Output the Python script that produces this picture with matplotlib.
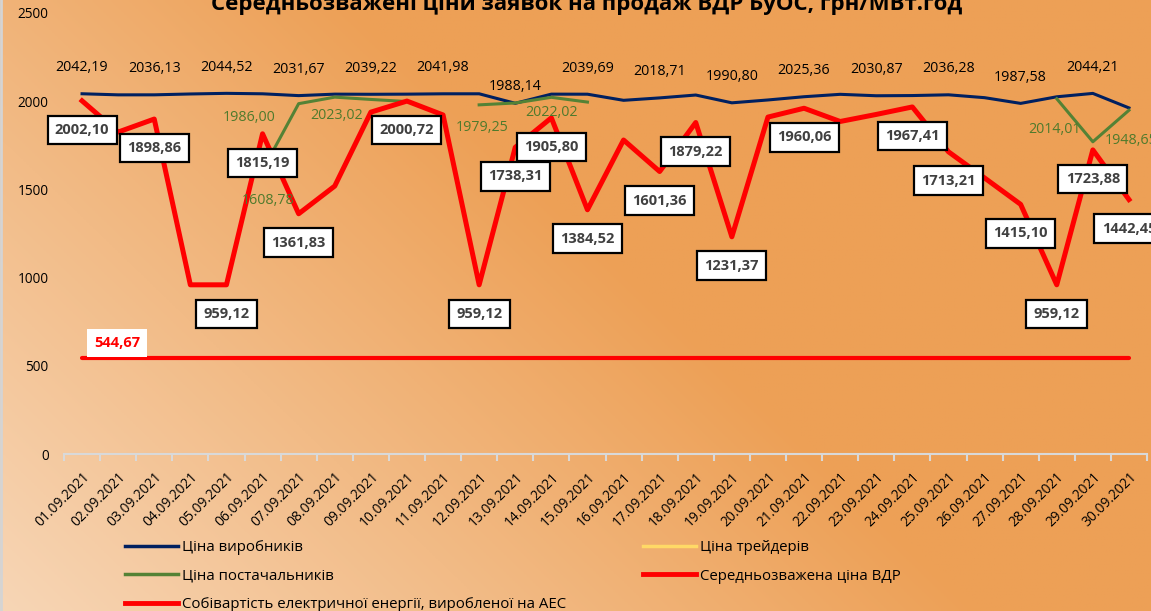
import numpy as np
import matplotlib.pyplot as plt
from matplotlib.lines import Line2D

plt.rcParams['font.family'] = ['Open Sans', 'DejaVu Sans']

# categories
dates = ["01.09.2021", "02.09.2021", "03.09.2021", "04.09.2021", "05.09.2021",
         "06.09.2021", "07.09.2021", "08.09.2021", "09.09.2021", "10.09.2021",
         "11.09.2021", "12.09.2021", "13.09.2021", "14.09.2021", "15.09.2021",
         "16.09.2021", "17.09.2021", "18.09.2021", "19.09.2021", "20.09.2021",
         "21.09.2021", "22.09.2021", "23.09.2021", "24.09.2021", "25.09.2021",
         "26.09.2021", "27.09.2021", "28.09.2021", "29.09.2021", "30.09.2021"]

# Ціна виробників
producers = [2042.19, 2036.0, 2036.13, 2041.0, 2044.52, 2042.0, 2031.67, 2040.0,
             2039.22, 2040.0, 2041.98, 2042.0, 1988.14, 2040.0, 2039.69, 2005.0,
             2018.71, 2035.0, 1990.80, 2007.0, 2025.36, 2039.0, 2030.87, 2032.0,
             2036.28, 2020.0, 1987.58, 2025.0, 2044.21, 1962.0]
producers_labeled = [0, 2, 4, 6, 8, 10, 12, 14, 16, 18, 20, 22, 24, 26, 28]

# Ціна постачальників (gaps = no data)
nan = np.nan
suppliers = [nan, nan, nan, nan, nan, 1608.78, 1986.00, 2023.02, 2010.0, 1998.0,
             nan, 1979.25, 1990.0, 2022.02, 1995.0, nan, nan, nan, nan, nan,
             nan, nan, nan, nan, nan, nan, nan, 2014.01, 1770.0, 1948.65]
suppliers_labeled = [5, 6, 7, 11, 13, 27, 29]

# Ціна трейдерів - no values in this month
traders = [nan] * 30

# Середньозважена ціна ВДР
weighted = [2002.10, 1825.0, 1898.86, 959.12, 959.12, 1815.19, 1361.83, 1519.0,
            1938.0, 2000.72, 1922.0, 959.12, 1738.31, 1905.80, 1384.52, 1780.0,
            1601.36, 1879.22, 1231.37, 1910.0, 1960.06, 1885.0, 1925.0, 1967.41,
            1713.21, 1565.0, 1415.10, 959.12, 1723.88, 1442.45]
weighted_labeled = [0, 2, 4, 5, 6, 9, 11, 12, 13, 14, 16, 17, 18, 20, 23, 24,
                    26, 27, 28, 29]

# Собівартість електроенергії АЕС
npp_cost = [544.67] * 30


def fmt(v):
    return f"{v:.2f}".replace(".", ",")


W, H = 1151, 611
fig = plt.figure(figsize=(W / 100, H / 100), dpi=100)

# gradient background
bg = fig.add_axes([0, 0, 1, 1], zorder=-10)
u = np.linspace(0, 1, 400)
v = np.linspace(1, 0, 200)
U, V = np.meshgrid(u, v)
t = np.clip((U * 1.0 + V * 0.55) / 0.85, 0, 1)
c0 = np.array([247, 214, 182]) / 255
c1 = np.array([237, 160, 86]) / 255
img = c0 + (c1 - c0) * t[..., None]
bg.imshow(img, aspect='auto', extent=[0, 1, 0, 1])
bg.axis('off')
fig.add_artist(Line2D([0.0012, 0.0012], [0, 1], color='#d4d4d4', lw=2))

ax = fig.add_axes([64 / W, 1 - 454 / H, (1147 - 64) / W, (454 - 13) / H])
ax.set_facecolor('none')
x = np.arange(len(dates))

navy = '#002060'
green = '#548235'
red = '#ff0000'
yellow = '#ffd966'

ax.plot(x, producers, color=navy, lw=2.2, zorder=3)
ax.plot(x, traders, color=yellow, lw=2.2, zorder=3)
ax.plot(x, suppliers, color=green, lw=2.2, zorder=4)
ax.plot(x, weighted, color=red, lw=3.6, zorder=5)
ax.plot(x, npp_cost, color=red, lw=3.0, zorder=5, solid_capstyle='round')

ax.set_xlim(-0.5, len(dates) - 0.5)
ax.set_ylim(0, 2500)
ax.set_yticks([0, 500, 1000, 1500, 2000, 2500])
ax.tick_params(axis='y', length=0, pad=11, labelsize=9.8)
ax.set_xticks(x)
ax.set_xticklabels(dates, rotation=45, ha='right', va='top',
                   rotation_mode='anchor', fontsize=9.9)
ax.tick_params(axis='x', which='major', length=0, pad=11)
ax.set_xticks(np.arange(-0.5, len(dates)), minor=True)
ax.tick_params(axis='x', which='minor', length=5, color='#d9d9d9', width=1.5)
for s in ['top', 'right', 'left']:
    ax.spines[s].set_visible(False)
ax.spines['bottom'].set_color('#d9d9d9')
ax.spines['bottom'].set_linewidth(1.5)

# producer labels above the line
for i in producers_labeled:
    dy = 17 if i == 12 else 26
    ax.annotate(fmt(producers[i]), (i, producers[i]), xytext=(0, dy),
                textcoords='offset pixels', ha='center', va='center',
                fontsize=10.3, color='black', zorder=6)

# supplier labels
sup_off = {5: (6, -30), 6: (-50, -14), 7: (2, -18), 11: (3, -23),
           13: (0, -15), 27: (-2, -31), 29: (2, -30)}
for i in suppliers_labeled:
    ax.annotate(fmt(suppliers[i]), (i, suppliers[i]), xytext=sup_off[i],
                textcoords='offset pixels', ha='center', va='center',
                fontsize=10.3, color='#4f7a2c', zorder=6, annotation_clip=False)

# weighted price labels in boxes
for i in weighted_labeled:
    ax.annotate(fmt(weighted[i]), (i, weighted[i]), xytext=(0, -29),
                textcoords='offset pixels', ha='center', va='center',
                fontsize=10.5, fontweight='bold', color='#404040', zorder=7,
                bbox=dict(boxstyle='square,pad=0.5', fc='white', ec='black', lw=1.6))

ax.annotate(fmt(npp_cost[0]), (0, npp_cost[0]), xytext=(35, 15),
            textcoords='offset pixels', ha='center', va='center',
            fontsize=10.5, fontweight='bold', color=red, zorder=7,
            bbox=dict(boxstyle='square,pad=0.5', fc='white', ec='none'))

fig.text(0.51, 1 - 10 / H, "Середньозважені ціни заявок на продаж ВДР БуОС, грн/МВт.год",
         ha='center', va='baseline', fontsize=16, fontweight='bold')

# legend in two blocks
h1 = [Line2D([], [], color=navy, lw=2.5), Line2D([], [], color=green, lw=2.5),
      Line2D([], [], color=red, lw=3.5)]
l1 = ["Ціна виробників", "Ціна постачальників",
      "Собівартість електричної енергії, виробленої на АЕС"]
h2 = [Line2D([], [], color=yellow, lw=2.5), Line2D([], [], color=red, lw=3.5)]
l2 = ["Ціна трейдерів", "Середньозважена ціна ВДР"]
kw = dict(loc='upper left', frameon=False, fontsize=10.8, handlelength=3.5,
          handletextpad=0.3, labelspacing=0.9, borderpad=0, borderaxespad=0)
fig.legend(h1, l1, bbox_to_anchor=(125 / W, 1 - 540 / H), **kw)
fig.legend(h2, l2, bbox_to_anchor=(643 / W, 1 - 540 / H), **kw)

fig.savefig("out.png", dpi=100)
